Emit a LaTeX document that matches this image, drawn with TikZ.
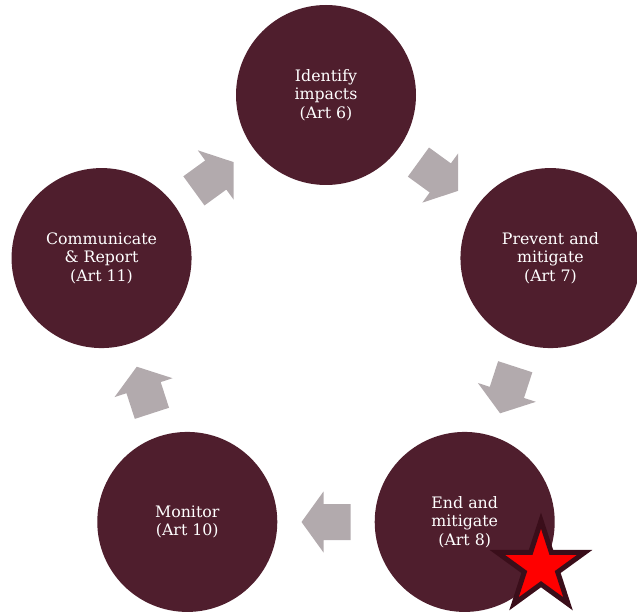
\documentclass[tikz,border=0pt]{standalone}
\usepackage{fontspec}
\setmainfont{DejaVu Serif}
\usetikzlibrary{shapes.geometric}
\definecolor{maroon}{RGB}{79,30,45}
\definecolor{arrowgray}{RGB}{178,170,173}
\definecolor{stardark}{RGB}{58,14,26}
\tikzset{
  stepcirc/.style={circle, fill=maroon, minimum size=180pt, inner sep=0pt,
    text=white, align=center, font=\fontsize{15.8}{18.5}\selectfont},
  blockarrow/.style={fill=arrowgray},
  redstar/.style={star, star points=5, star point ratio=2.618, minimum size=92pt,
    inner sep=0pt, fill=red, draw=stardark, line width=5pt}
}
\begin{document}
\begin{tikzpicture}[x=1pt,y=1pt]
\useasboundingbox (0,0) rectangle (637,614);
\coordinate (C) at (326,283);
\node[stepcirc] (c1) at ([shift={(90:236)}]C) {Identify\\impacts\\(Art 6)};
\node[stepcirc] (c2) at ([shift={(18:236)}]C) {Prevent and\\mitigate\\(Art 7)};
\node[stepcirc] (c3) at ([shift={(-54:236)}]C) {End and\\mitigate\\(Art 8)};
\node[stepcirc] (c4) at ([shift={(-126:236)}]C) {Monitor\\(Art 10)};
\node[stepcirc] (c5) at ([shift={(162:236)}]C) {Communicate\\\& Report\\(Art 11)};
\foreach \a in {54,-18,-90,-162,126}{
  \begin{scope}[shift={(C)}, rotate=\a]
    \fill[blockarrow] (173,24.5) -- (173,-2.5) -- (160.5,-2.5) -- (191,-24.5)
      -- (221.5,-2.5) -- (209,-2.5) -- (209,24.5) -- cycle;
  \end{scope}
}
\node[redstar] (star) at (541,47.4) {};
\end{tikzpicture}
\end{document}
